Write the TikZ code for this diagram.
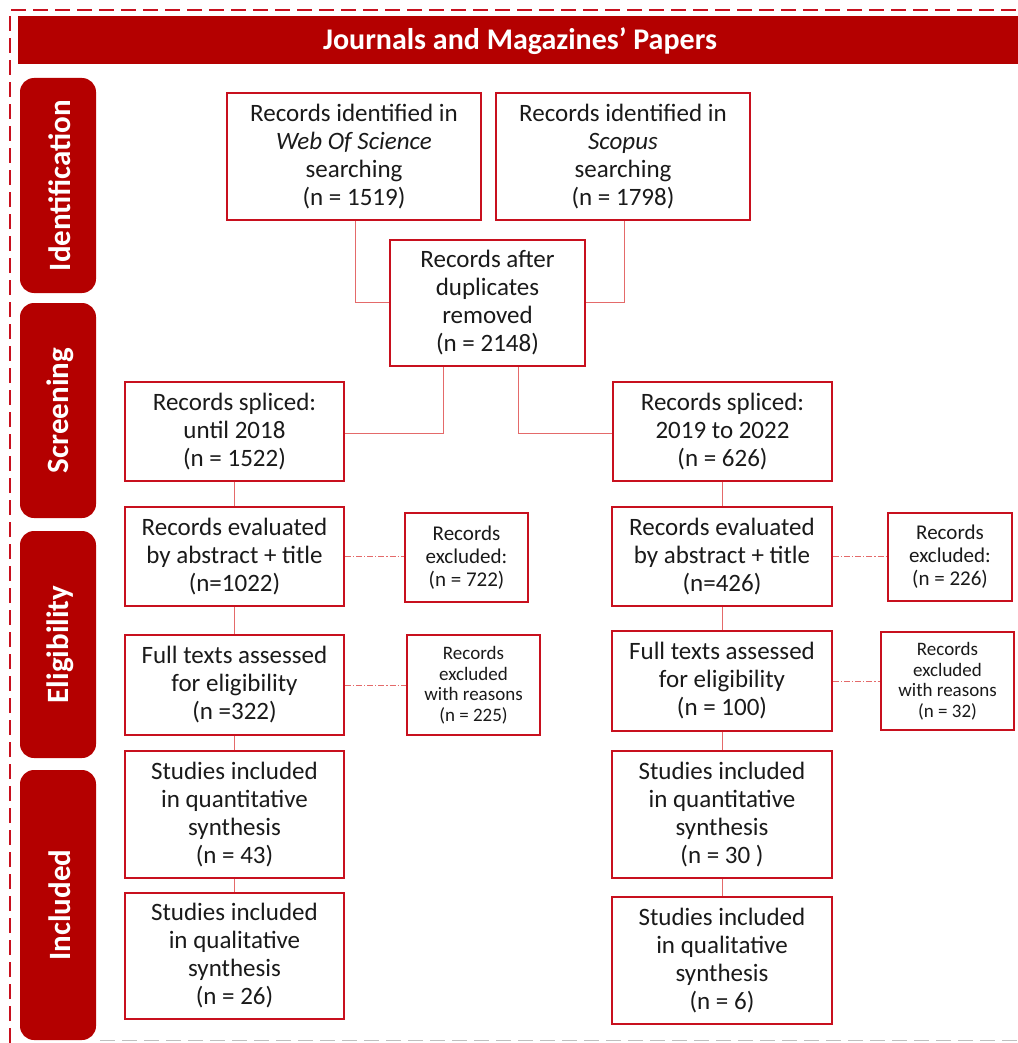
\documentclass[tikz,border=0pt]{standalone}
\usepackage{fontspec}
\setmainfont{Carlito}
\definecolor{hdr}{HTML}{B40000}
\definecolor{bx}{HTML}{C8101E}
\definecolor{cn}{HTML}{E46A6A}
\definecolor{txt}{HTML}{1A1A1A}
\tikzset{
  box/.style={draw=bx, line width=1.6pt, fill=white, align=center, inner sep=2pt, text=txt,
    font=\fontsize{25}{28}\selectfont},
  sbox/.style={box, font=\fontsize{21}{23}\selectfont},
  tbox/.style={box, font=\fontsize{19}{20.5}\selectfont},
  tab/.style={fill=hdr, rounded corners=14pt},
  tabtext/.style={rotate=90, text=white, font=\bfseries\fontsize{31}{32}\selectfont},
  conn/.style={draw=cn, line width=1pt},
  dconn/.style={draw=cn, line width=0.9pt, dash pattern=on 6pt off 2pt on 1.2pt off 2pt},
}
\begin{document}
\begin{tikzpicture}[x=1pt,y=-1pt]
\useasboundingbox (0,0) rectangle (1017,1043);
% outer dashed frame
\draw[bx, line width=1.6pt, dash pattern=on 15pt off 7pt] (10,1043) -- (10,10) -- (1030,10);
\draw[black!25, line width=1pt, dash pattern=on 15pt off 7pt] (100,1040) -- (1017,1040);
% header
\fill[hdr] (18,16) rectangle (1030,64);
\node[text=white, font=\bfseries\fontsize{30}{31}\selectfont] (title) at (520,41) {Journals and Magazines’ Papers};
% tabs
\fill[tab] (20,78) rectangle (96,293);
\node[tabtext] (tid) at (60,185.5) {Identification};
\fill[tab] (20,303) rectangle (96,518);
\node[tabtext] (tsc) at (60,410.5) {Screening};
\fill[tab] (20,531) rectangle (96,758);
\node[tabtext] (tel) at (60,644.5) {Eligibility};
\fill[tab] (20,770) rectangle (96,1040);
\node[tabtext] (tin) at (60,905) {Included};
% connectors (drawn first, boxes cover ends)
\coordinate (c1) at (355,220);
\coordinate (c2) at (624,220);
\draw[conn] (c1) |- (390,302);
\draw[conn] (c2) |- (585,302);
\draw[conn] (443,366) |- (344,433);
\draw[conn] (518,366) |- (613,433);
% boxes
\node[box, minimum width=254pt, minimum height=127pt] (wos) at (354,156.5)
  {Records identified in\\\textit{Web Of Science}\\searching\\(n = 1519)};
\node[box, minimum width=254pt, minimum height=127pt] (sco) at (623,156.5)
  {Records identified in\\\textit{Scopus}\\searching\\(n = 1798)};
\node[box, minimum width=195pt, minimum height=126pt] (dup) at (487.5,303)
  {Records after\\duplicates\\removed\\(n = 2148)};
\node[box, minimum width=219pt, minimum height=99pt] (ls) at (234.5,431.5)
  {Records spliced:\\until 2018\\(n = 1522)};
\node[box, minimum width=219pt, minimum height=99pt] (rs) at (722.5,431.5)
  {Records spliced:\\2019 to 2022\\(n = 626)};
\node[box, minimum width=219pt, minimum height=99pt] (le) at (234.5,556.5)
  {Records evaluated\\by abstract + title\\(n=1022)};
\node[box, minimum width=220pt, minimum height=99pt] (re) at (722,556.5)
  {Records evaluated\\by abstract + title\\(n=426)};
\node[sbox, minimum width=123pt, minimum height=89pt] (lx1) at (466.5,557.5)
  {Records\\excluded:\\(n = 722)};
\node[sbox, minimum width=124pt, minimum height=88pt] (rx1) at (950,557)
  {Records\\excluded:\\(n = 226)};
\node[box, minimum width=219pt, minimum height=100pt] (lf) at (234.5,685)
  {Full texts assessed\\for eligibility\\(n =322)};
\node[box, minimum width=220pt, minimum height=100pt] (rf) at (722,681)
  {Full texts assessed\\for eligibility\\(n = 100)};
\node[tbox, minimum width=133pt, minimum height=100pt] (lx2) at (473.5,685)
  {Records\\excluded\\with reasons\\(n = 225)};
\node[tbox, minimum width=133pt, minimum height=98pt] (rx2) at (947.5,681)
  {Records\\excluded\\with reasons\\(n = 32)};
\node[box, minimum width=219pt, minimum height=127pt] (lq) at (234.5,814.5)
  {Studies included\\in quantitative\\synthesis\\(n = 43)};
\node[box, minimum width=220pt, minimum height=127pt] (rq) at (722,814.5)
  {Studies included\\in quantitative\\synthesis\\(n = 30 )};
\node[box, minimum width=219pt, minimum height=126pt] (lql) at (234.5,956)
  {Studies included\\in qualitative\\synthesis\\(n = 26)};
\node[box, minimum width=220pt, minimum height=127pt] (rql) at (722,960.5)
  {Studies included\\in qualitative\\synthesis\\(n = 6)};
% vertical and side connectors
\draw[conn] (ls.south) -- (le.north);
\draw[conn] (le.south) -- (lf.north);
\draw[conn] (lf.south) -- (lq.north);
\draw[conn] (lq.south) -- (lql.north);
\draw[conn] (rs.south) -- (rs.south |- re.north);
\draw[conn] (re.south) -- (rf.north);
\draw[conn] (rf.south) -- (rq.north);
\draw[conn] (rq.south) -- (rql.north);
\draw[dconn] (le.east) -- (lx1.west |- le.east);
\draw[dconn] (re.east) -- (rx1.west |- re.east);
\draw[dconn] (lf.east) -- (lx2.west |- lf.east);
\draw[dconn] (rf.east) -- (rx2.west |- rf.east);
\end{tikzpicture}
\end{document}
